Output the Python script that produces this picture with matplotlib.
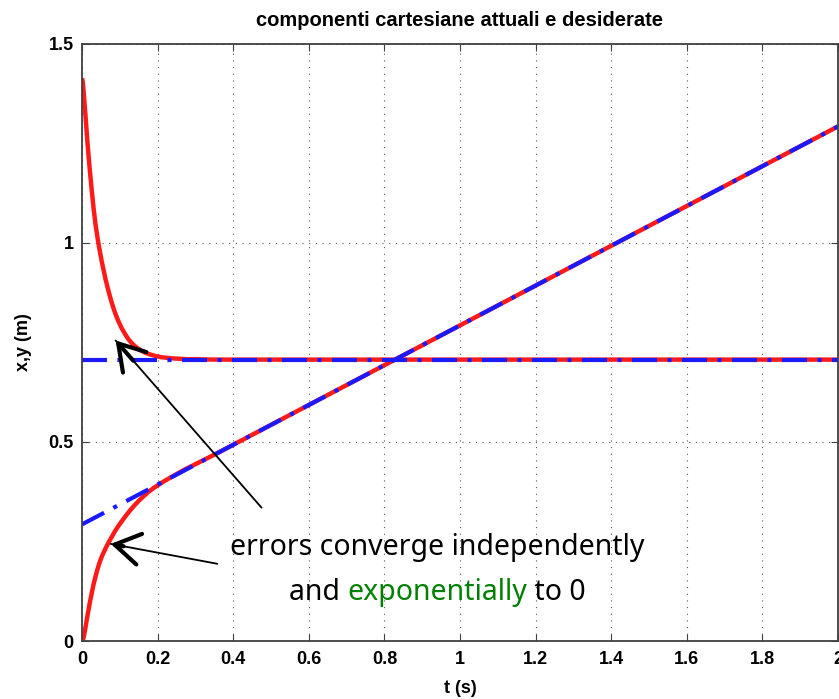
import matplotlib.pyplot as plt
from matplotlib.transforms import offset_copy

# desired trajectory (blue dash-dot)
t_des = [0.0, 2.0]
x_des = [0.293, 1.293]
y_des = [0.707, 0.707]

t_act_y = [0.0, 0.002, 0.006, 0.010, 0.014, 0.018, 0.022, 0.026, 0.031, 0.036, 0.040, 0.044,
           0.049, 0.053, 0.058, 0.062, 0.068, 0.075, 0.081, 0.088, 0.096, 0.105, 0.114, 0.123,
           0.134, 0.145, 0.156, 0.168, 0.18, 0.195, 0.21, 0.22, 0.24, 0.26, 0.28, 0.3, 0.35,
           0.4, 1.0, 2.0]
y_act = [1.414, 1.405, 1.36, 1.31, 1.258, 1.212, 1.170, 1.130, 1.084, 1.045, 1.020, 0.996,
         0.970, 0.950, 0.928, 0.910, 0.887, 0.862, 0.843, 0.823, 0.804, 0.786, 0.771, 0.758,
         0.746, 0.737, 0.730, 0.724, 0.720, 0.716, 0.713, 0.712, 0.710, 0.709, 0.708, 0.708,
         0.707, 0.707, 0.707, 0.707]

t_act_x = [0.0, 0.004, 0.008, 0.012, 0.017, 0.021, 0.025, 0.030, 0.035, 0.040, 0.045, 0.051,
           0.057, 0.063, 0.07, 0.079, 0.088, 0.097, 0.106, 0.117, 0.128, 0.139, 0.15, 0.162,
           0.175, 0.189, 0.203, 0.22, 0.24, 0.27, 0.31, 0.36, 0.42, 0.5, 1.0, 1.5, 2.0]
x_act = [0.0, 0.008, 0.027, 0.050, 0.077, 0.098, 0.117, 0.140, 0.159, 0.177, 0.193, 0.209,
         0.222, 0.234, 0.247, 0.262, 0.277, 0.290, 0.302, 0.316, 0.329, 0.341, 0.352, 0.363,
         0.374, 0.384, 0.393, 0.403, 0.414, 0.430, 0.449, 0.473, 0.503, 0.543, 0.793, 1.043,
         1.293]

x_ticks = [0, 0.2, 0.4, 0.6, 0.8, 1, 1.2, 1.4, 1.6, 1.8, 2]
x_tick_labels = ["0", "0.2", "0.4", "0.6", "0.8", "1", "1.2", "1.4", "1.6", "1.8", "2"]
y_ticks = [0, 0.5, 1, 1.5]
y_tick_labels = ["0", "0.5", "1", "1.5"]

# second note line, split by colour
note_parts = ["and ", "exponentially", " to 0"]
note_colors = ["black", "#008000", "black"]

LBL = dict(family="Liberation Sans", fontweight="bold")

fig = plt.figure(figsize=(8.39, 6.99), dpi=100)
ax = fig.add_axes([82 / 839, 58 / 699, 756 / 839, 597 / 699])

ax.plot(t_act_y, y_act, color="#ff1a1a", lw=3.2, solid_capstyle="butt")
ax.plot(t_act_x, x_act, color="#ff1a1a", lw=3.2, solid_capstyle="butt")
ax.plot(t_des, y_des, color="#1a1aff", lw=3, linestyle=(0, (6, 2.5, 1, 2.5)))
ax.plot(t_des, x_des, color="#1a1aff", lw=3, linestyle=(0, (6, 2.5, 1, 2.5)))

ax.set_xlim(0, 2)
ax.set_ylim(0, 1.5)
ax.set_xticks(x_ticks)
ax.set_xticklabels(x_tick_labels, fontsize=13, **LBL)
ax.set_yticks(y_ticks)
ax.set_yticklabels(y_tick_labels, fontsize=13, **LBL)
ax.tick_params(axis="x", direction="in", length=5, top=True, color="#404040", pad=7)
ax.tick_params(axis="y", direction="in", length=5, right=True, color="#404040", pad=6)
ax.grid(True, linestyle=(0, (1, 5)), color="#555555", lw=0.8)
for s in ax.spines.values():
    s.set_color("#404040")
    s.set_linewidth(1.3)

ax.set_xlabel("t (s)", fontsize=13, labelpad=9, **LBL)
ax.set_ylabel("x,y (m)", fontsize=13, labelpad=12, **LBL)
ax.set_title("componenti cartesiane attuali e desiderate", fontsize=14.5, pad=13, **LBL)

# annotation arrows: thin shaft + bold open head
shaft = dict(arrowstyle="-", color="black", lw=1.3, shrinkA=0, shrinkB=0)
head = dict(arrowstyle="->,head_length=0.45,head_width=0.28", color="black", lw=3,
            mutation_scale=40, shrinkA=0, shrinkB=0)
arrows = [((0.089, 0.755), (0.475, 0.335)), ((0.076, 0.244), (0.358, 0.194))]
for tip, tail in arrows:
    ax.annotate("", xy=tip, xytext=tail, arrowprops=shaft)
    near = (tip[0] + 0.12 * (tail[0] - tip[0]), tip[1] + 0.12 * (tail[1] - tip[1]))
    ax.annotate("", xy=tip, xytext=near, arrowprops=head)

TXT = dict(fontsize=20.5, family="Noto Sans", va="baseline", ha="left")
ax.text(0.94, 0.215, "errors converge independently", **TXT | dict(ha="center"))

# lay out the coloured words one after another on the same baseline
renderer = fig.canvas.get_renderer()
dx = 0
for part, col in zip(note_parts, note_colors):
    tr = offset_copy(ax.transData, fig=fig, x=dx, y=0, units="dots")
    t = ax.text(0.548, 0.102, part, color=col, transform=tr, **TXT)
    dx += t.get_window_extent(renderer).width

fig.savefig("out.png", dpi=100)
